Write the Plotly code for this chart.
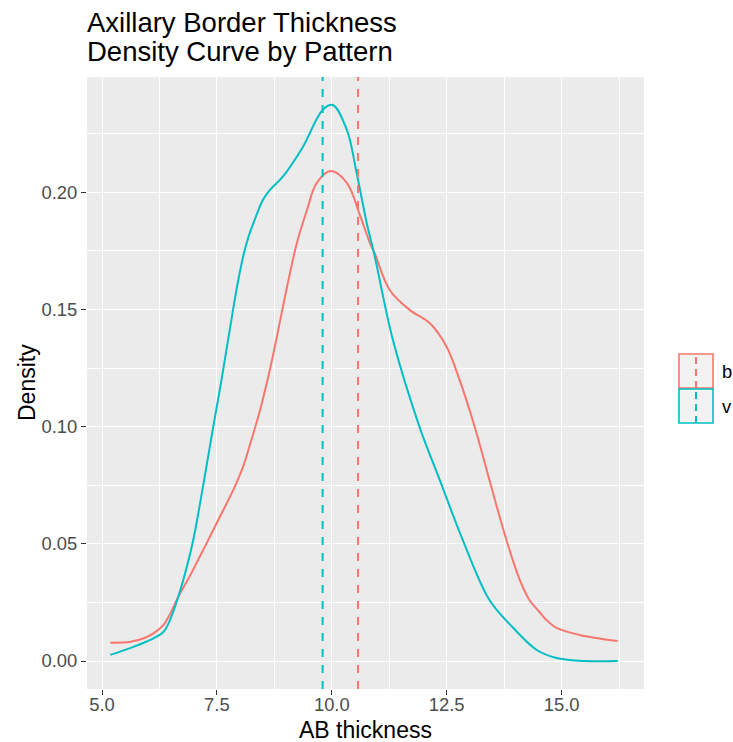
import plotly.graph_objects as go

# ---------------- data ----------------
patterns = ["b", "v"]          # legend labels as visible (cut at the image edge in the reference)
colors = ["#F8766D", "#00BFC4"]

b_x = [5.18, 5.62, 5.91, 6.12, 6.34, 6.48, 6.66, 6.91, 7.09, 7.24, 7.42, 7.64, 7.89, 8.07,
       8.25, 8.44, 8.65, 8.91, 9.03, 9.24, 9.46, 9.67, 9.98, 10.33, 10.61, 10.83, 10.93,
       11.26, 11.70, 12.13, 12.50, 12.78, 13.11, 13.43, 13.80, 14.09, 14.30, 14.52, 14.67,
       14.89, 15.39, 16.22]
b_y = [0.0078, 0.0082, 0.0097, 0.0118, 0.0154, 0.0200, 0.0274, 0.0362, 0.0431, 0.0488,
       0.0559, 0.0644, 0.0744, 0.0829, 0.0943, 0.1071, 0.1240, 0.1485, 0.1600, 0.1783,
       0.1924, 0.2039, 0.2090, 0.2039, 0.1903, 0.1783, 0.1741, 0.1583, 0.1497, 0.1442,
       0.1340, 0.1199, 0.0998, 0.0772, 0.0516, 0.0346, 0.0260, 0.0209, 0.0175, 0.0141,
       0.0111, 0.0085]

v_x = [5.18, 5.61, 5.91, 6.12, 6.34, 6.48, 6.66, 6.87, 7.00, 7.20, 7.42, 7.60, 7.85, 7.96,
       8.07, 8.18, 8.28, 8.50, 8.65, 8.93, 9.37, 9.80, 10.02, 10.33, 10.54, 10.76, 10.93,
       11.33, 11.91, 12.35, 12.85, 13.43, 13.93, 14.46, 14.89, 15.39, 16.22]
v_y = [0.0026, 0.0055, 0.0078, 0.0097, 0.0125, 0.0175, 0.0274, 0.0420, 0.0530, 0.0747,
       0.0999, 0.1199, 0.1497, 0.1620, 0.1725, 0.1805, 0.1860, 0.1967, 0.2009, 0.2065,
       0.2193, 0.2351, 0.2372, 0.2265, 0.2082, 0.1869, 0.1730, 0.1369, 0.0998, 0.0772,
       0.0516, 0.0260, 0.0145, 0.0047, 0.0013, 0.0001, 0.0000]

means = [10.57, 9.80]

x_ticks = [5.0, 7.5, 10.0, 12.5, 15.0]
x_tick_labels = ["5.0", "7.5", "10.0", "12.5", "15.0"]
y_ticks = [0.00, 0.05, 0.10, 0.15, 0.20]
y_tick_labels = ["0.00", "0.05", "0.10", "0.15", "0.20"]

title_lines = ["Axillary Border Thickness", "Density Curve by Pattern"]
x_title = "AB thickness"
y_title = "Density"

# ---------------- layout constants ----------------
W, H = 733, 742
L, R, T, B = 87, 89, 77, 53
PW, PH = W - L - R, H - T - B
FONT = "Liberation Sans, Arial, Helvetica, sans-serif"


def px2x(px):
    return (px - L) / PW


def py2y(py):
    return 1 - (py - T) / PH


fig = go.Figure()

series = [(b_x, b_y), (v_x, v_y)]
for (xs, ys), name, col in zip(series, patterns, colors):
    fig.add_trace(go.Scatter(
        x=xs, y=ys, mode="lines", name=name, showlegend=False,
        line=dict(color=col, width=2, shape="spline", smoothing=1.0),
    ))

shapes = []
for m, col in zip(means, colors):
    shapes.append(dict(type="line", xref="x", yref="y domain", x0=m, x1=m, y0=0, y1=1,
                       line=dict(color=col, width=2, dash="8px,8px"), layer="above"))

annotations = []
# title, two lines with ggplot's tighter line spacing
for line_text, cy in zip(title_lines, [22, 52]):
    annotations.append(dict(xref="paper", yref="paper", x=px2x(85), y=py2y(cy),
                            text=line_text, showarrow=False, xanchor="left", yanchor="middle",
                            font=dict(family=FONT, size=27.5, color="black")))

# axis titles
annotations.append(dict(xref="paper", yref="paper", x=0.5, y=py2y(730),
                        text=x_title, showarrow=False, xanchor="center", yanchor="middle",
                        font=dict(family=FONT, size=23, color="black")))
annotations.append(dict(xref="paper", yref="paper", x=px2x(27), y=0.5, textangle=-90,
                        text=y_title, showarrow=False, xanchor="center", yanchor="middle",
                        font=dict(family=FONT, size=23, color="black")))

# custom ggplot-like legend
key_x0, key_x1 = 679, 713
key_tops = [354, 389]
key_h = 34
for top, name, col in zip(key_tops, patterns, colors):
    shapes.append(dict(type="rect", xref="paper", yref="paper",
                       x0=px2x(key_x0), x1=px2x(key_x1), y0=py2y(top + key_h), y1=py2y(top),
                       fillcolor="#F2F2F2", line=dict(color=col, width=1.6), layer="above"))
    cx = (key_x0 + key_x1) / 2
    shapes.append(dict(type="line", xref="paper", yref="paper",
                       x0=px2x(cx), x1=px2x(cx), y0=py2y(top + key_h), y1=py2y(top),
                       line=dict(color=col, width=2, dash="7px,5px"), layer="above"))
    annotations.append(dict(xref="paper", yref="paper", x=px2x(720), y=py2y(top + key_h / 2),
                            text=name, showarrow=False, xanchor="left", yanchor="middle",
                            font=dict(family=FONT, size=18.4, color="black")))

fig.update_layout(
    width=W, height=H,
    margin=dict(l=L, r=R, t=T, b=B, pad=0, autoexpand=False),
    paper_bgcolor="white",
    plot_bgcolor="#EBEBEB",
    font=dict(family=FONT, color="black"),
    shapes=shapes,
    annotations=annotations,
    showlegend=False,
)

fig.update_xaxes(
    range=[5 - 15 / 45.96, 5 + (644 - 102) / 45.96],
    tickvals=x_ticks, ticktext=x_tick_labels,
    showgrid=True, gridcolor="white", gridwidth=1.4,
    minor=dict(dtick=1.25, tick0=5.0, showgrid=True, gridcolor="white", gridwidth=0.7),
    zeroline=False, showline=False, automargin=False,
    ticks="outside", ticklen=5, tickwidth=1.3, tickcolor="#333333",
    ticklabelstandoff=-6,
    tickfont=dict(family=FONT, size=18.4, color="#4D4D4D"),
)
fig.update_yaxes(
    range=[-(689 - 661) / 2344, (661 - 77) / 2344],
    tickvals=y_ticks, ticktext=y_tick_labels,
    showgrid=True, gridcolor="white", gridwidth=1.4,
    minor=dict(dtick=0.025, tick0=0, showgrid=True, gridcolor="white", gridwidth=0.7),
    zeroline=False, showline=False, automargin=False,
    ticks="outside", ticklen=5, tickwidth=1.3, tickcolor="#333333",
    tickfont=dict(family=FONT, size=18.4, color="#4D4D4D"),
)

fig.write_html("out.html")
